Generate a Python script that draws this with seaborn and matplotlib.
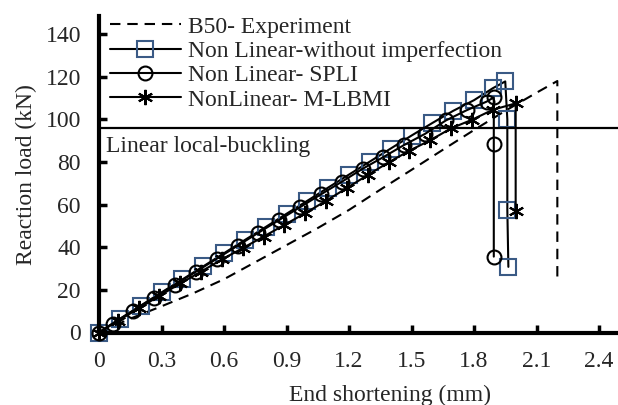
import matplotlib
matplotlib.use("Agg")
import matplotlib.pyplot as plt
import seaborn as sns

# ---------------- data ----------------
exp_x = [0, 0.15, 0.30, 0.45, 0.60, 0.75, 0.90, 1.05, 1.20, 1.35, 1.50, 1.65, 1.80, 1.95, 2.10, 2.20, 2.20]
exp_y = [0, 6.5, 12.3, 18.3, 25.0, 33.0, 41.0, 49.0, 57.5, 67.0, 76.3, 85.7, 95.0, 104.0, 112.5, 118.0, 26.0]

sq_x = [0, 0.1, 0.2, 0.3, 0.4, 0.5, 0.6, 0.7, 0.8, 0.9, 1.0, 1.1, 1.2, 1.3, 1.4, 1.5, 1.6, 1.7, 1.8, 1.89,
        1.95, 1.96, 1.96, 1.965]
sq_y = [0, 6.4, 12.6, 18.8, 24.9, 31.0, 37.2, 43.4, 49.5, 55.7, 61.8, 68.0, 74.1, 80.2, 86.3, 92.4, 98.3, 104.0, 109.0, 114.6,
        117.8, 100.0, 57.5, 30.8]

ci_x = [0, 0.065, 0.165, 0.265, 0.365, 0.465, 0.565, 0.665, 0.765, 0.865, 0.965, 1.065, 1.165, 1.265, 1.365, 1.465,
        1.565, 1.665, 1.765, 1.86, 1.895, 1.895, 1.895]
ci_y = [0, 4.2, 10.3, 16.4, 22.5, 28.5, 34.6, 40.7, 46.8, 52.8, 58.8, 64.8, 70.7, 76.8, 82.3, 88.0,
        93.2, 99.5, 104.3, 108.3, 110.3, 88.5, 35.6]

st_x = [0, 0.09, 0.19, 0.29, 0.39, 0.49, 0.59, 0.69, 0.79, 0.89, 0.99, 1.09, 1.19, 1.29, 1.39, 1.49,
        1.59, 1.69, 1.79, 1.89, 2.0, 2.0]
st_y = [0, 5.4, 11.3, 17.2, 23.0, 28.6, 34.3, 39.6, 45.0, 50.5, 56.0, 61.8, 67.8, 73.9, 79.8, 85.3,
        90.2, 95.8, 99.8, 104.5, 107.5, 57.2]

labels = ["B50- Experiment", "Non Linear-without imperfection", "Non Linear- SPLI", "NonLinear- M-LBMI"]
buckling_load = 96
buckling_text = "Linear local-buckling"
x_ticks = [0, 0.3, 0.6, 0.9, 1.2, 1.5, 1.8, 2.1, 2.4]
x_ticklabels = ["0", "0.3", "0.6", "0.9", "1.2", "1.5", "1.8", "2.1", "2.4"]
y_ticks = [0, 20, 40, 60, 80, 100, 120, 140]
x_label = "End shortening (mm)"
y_label = "Reaction load (kN)"

# ---------------- style ----------------
sns.set_style("ticks")
plt.rcParams["font.family"] = ["Liberation Serif", "DejaVu Serif"]
FS = 17

W, H = 618, 405
fig = plt.figure(figsize=(W / 100, H / 100), dpi=100)
x0px, y0px, ytop_px = 99, 332.5, 16
xmax = 2.5
xr_px = x0px + xmax * (500 / 2.4)
ax = fig.add_axes([x0px / W, (H - y0px) / H, (xr_px - x0px) / W, (y0px - ytop_px) / H])

sq_color = "#3A5A85"

common = dict(ax=ax, sort=False, estimator=None, color="black", clip_on=False)
sns.lineplot(x=exp_x, y=exp_y, linewidth=1.5, linestyle=(0, (5, 3.3)), label=labels[0], **common)
sns.lineplot(x=sq_x, y=sq_y, linewidth=1.5, marker="s", markersize=11, markerfacecolor="none",
             markeredgecolor=sq_color, markeredgewidth=1.5, label=labels[1], **common)
sns.lineplot(x=ci_x, y=ci_y, linewidth=1.5, marker="o", markersize=10, markerfacecolor="none",
             markeredgecolor="black", markeredgewidth=1.5, label=labels[2], **common)
sns.lineplot(x=st_x, y=st_y, linewidth=1.5, marker=(6, 2, 0), markersize=11,
             markeredgecolor="black", markeredgewidth=1.5, label=labels[3], **common)

ax.axhline(buckling_load, color="black", linewidth=1.6, clip_on=False)
ax.text(0.034, 84.7, buckling_text, fontsize=FS, va="baseline", ha="left")

ax.set_xlim(0, xmax)
ax.set_ylim(0, 148.5)
ax.set_xticks(x_ticks)
ax.set_xticklabels(x_ticklabels)
ax.set_yticks(y_ticks)
ax.tick_params(axis="both", direction="in", length=6, width=2.5, labelsize=FS, pad=13, color="black")

for s in ["top", "right"]:
    ax.spines[s].set_visible(False)
for s in ["left", "bottom"]:
    ax.spines[s].set_linewidth(3)
    ax.spines[s].set_color("black")

ax.set_xlabel(x_label, fontsize=FS)
ax.xaxis.label.set_va("baseline")
ax.xaxis.set_label_coords((390 - x0px) / (xr_px - x0px), (y0px - 401) / (y0px - ytop_px))
ax.set_ylabel(y_label, fontsize=FS)
ax.yaxis.set_label_coords((37 - x0px) / (xr_px - x0px), 0.5)

handles = ax.get_lines()[:4]
ax.legend(handles, labels, loc="upper left", bbox_to_anchor=(110 / W, (H - 16) / H),
          bbox_transform=fig.transFigure, frameon=False, fontsize=FS, borderpad=0,
          handlelength=3.0, handletextpad=0.3, labelspacing=0.12, borderaxespad=0)

fig.savefig("out.png", dpi=100)
